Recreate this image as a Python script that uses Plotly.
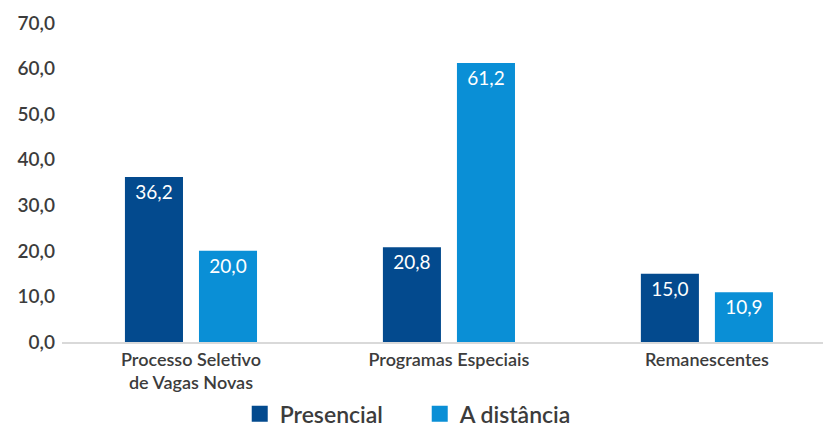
import plotly.graph_objects as go

# Data
categories = ["Processo Seletivo<br>de Vagas Novas", "Programas Especiais", "Remanescentes"]
presencial = [36.2, 20.8, 15.0]
a_distancia = [20.0, 61.2, 10.9]
y_ticks = [0, 10, 20, 30, 40, 50, 60, 70]

series_names = ["Presencial", "A distância"]
colors = ["#034a8e", "#0a8fd6"]
font_family = "Lato, 'Open Sans', sans-serif"
text_color = "#3c3c3c"

fig = go.Figure()

for name, values, color in zip(series_names, [presencial, a_distancia], colors):
    fig.add_trace(go.Bar(
        name=name,
        x=categories,
        y=values,
        marker=dict(color=color, line=dict(width=0)),
        texttemplate="%{y:.1f}",
        textposition="inside",
        insidetextanchor="end",
        textangle=0,
        textfont=dict(color="white", size=19, family=font_family),
        showlegend=False,
        legendgroup=name,
    ))

# Legend entries with larger square swatches
for name, color in zip(series_names, colors):
    fig.add_trace(go.Scatter(
        name=name,
        x=[None], y=[None],
        mode="markers",
        marker=dict(symbol="square", size=16, color=color),
        legendgroup=name,
        showlegend=True,
        hoverinfo="skip",
    ))

fig.update_layout(
    width=823,
    height=427,
    margin=dict(l=62, r=0, t=23, b=85),
    paper_bgcolor="white",
    plot_bgcolor="white",
    separators=",.",
    barmode="group",
    bargap=0.426,
    bargroupgap=0.216,
    font=dict(family=font_family, color=text_color),
    legend=dict(
        orientation="h",
        xref="container",
        yref="container",
        x=0.51,
        xanchor="center",
        y=0.031,
        yanchor="middle",
        entrywidth=135,
        font=dict(size=23, color=text_color, family=font_family, weight=600),
        itemsizing="trace",
        bgcolor="rgba(0,0,0,0)",
    ),
    xaxis=dict(
        range=[-0.5, 2.45],
        showgrid=False,
        showline=True,
        linecolor="#d9d9d9",
        linewidth=2,
        ticks="",
        tickfont=dict(size=18, color=text_color, family=font_family, weight=600),
    ),
    yaxis=dict(
        range=[0, 70],
        tickvals=y_ticks,
        tickformat=".1f",
        showgrid=False,
        zeroline=False,
        showline=False,
        ticks="",
        ticklen=0,
        ticklabelstandoff=6,
        tickfont=dict(size=19, color=text_color, family=font_family, weight=600),
    ),
)

fig.write_html("out.html")
